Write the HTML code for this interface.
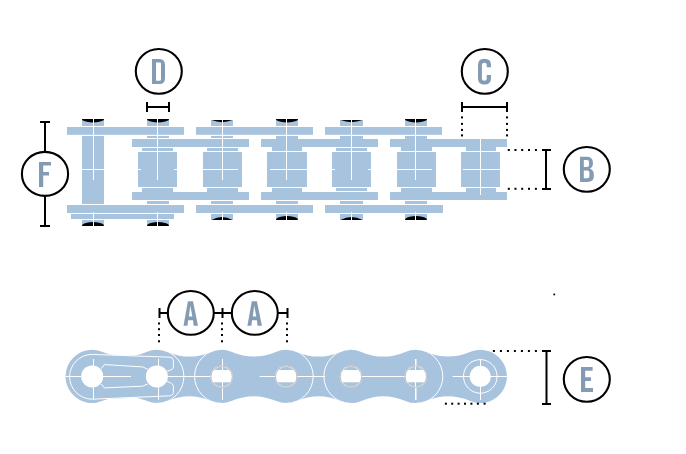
<!DOCTYPE html>
<html><head><meta charset="utf-8"><style>
html,body{margin:0;padding:0;background:#fff;width:686px;height:454px;overflow:hidden;font-family:"Liberation Sans",sans-serif;}
svg{display:block}
</style></head><body>
<svg width="686" height="454" viewBox="0 0 686 454">
<rect width="686" height="454" fill="#fff"/>
<rect x="67" y="127" width="117" height="7.8" fill="#a8c3de"/>
<rect x="67" y="205" width="117" height="8" fill="#a8c3de"/>
<rect x="196" y="127" width="117" height="7.8" fill="#a8c3de"/>
<rect x="196" y="205" width="117" height="8" fill="#a8c3de"/>
<rect x="325" y="127" width="117" height="7.8" fill="#a8c3de"/>
<rect x="325" y="205" width="118" height="8" fill="#a8c3de"/>
<rect x="71" y="214" width="103" height="5" fill="#a8c3de"/>
<rect x="132" y="139" width="117" height="8" fill="#a8c3de"/>
<rect x="132" y="192" width="117" height="8" fill="#a8c3de"/>
<rect x="261" y="139" width="117" height="8" fill="#a8c3de"/>
<rect x="261" y="192" width="117" height="8" fill="#a8c3de"/>
<rect x="390" y="139" width="117" height="8" fill="#a8c3de"/>
<rect x="390" y="192" width="117" height="8" fill="#a8c3de"/>
<rect x="82" y="119" width="22" height="7" fill="#a8c3de"/>
<rect x="82" y="136" width="22" height="68" fill="#a8c3de"/>
<rect x="82" y="220" width="22" height="6" fill="#a8c3de"/>
<rect x="147" y="119" width="22" height="7" fill="#a8c3de"/>
<rect x="147" y="136" width="22" height="2" fill="#a8c3de"/>
<rect x="142" y="148" width="31" height="3" fill="#a8c3de"/>
<rect x="138" y="152" width="39" height="35" fill="#a8c3de"/>
<rect x="142" y="188" width="31" height="4" fill="#a8c3de"/>
<rect x="147" y="201" width="22" height="3" fill="#a8c3de"/>
<rect x="147" y="220" width="22" height="6" fill="#a8c3de"/>
<rect x="211" y="120" width="22" height="6" fill="#a8c3de"/>
<rect x="211" y="136" width="22" height="2" fill="#a8c3de"/>
<rect x="207" y="148" width="31" height="3" fill="#a8c3de"/>
<rect x="203" y="152" width="39" height="35" fill="#a8c3de"/>
<rect x="207" y="188" width="31" height="4" fill="#a8c3de"/>
<rect x="211" y="201" width="22" height="3" fill="#a8c3de"/>
<rect x="211" y="214" width="22" height="6" fill="#a8c3de"/>
<rect x="276" y="119" width="22" height="7" fill="#a8c3de"/>
<rect x="276" y="136" width="22" height="3" fill="#a8c3de"/>
<rect x="272" y="147" width="30" height="4" fill="#a8c3de"/>
<rect x="267" y="152" width="40" height="35" fill="#a8c3de"/>
<rect x="272" y="188" width="30" height="4" fill="#a8c3de"/>
<rect x="276" y="201" width="22" height="3" fill="#a8c3de"/>
<rect x="276" y="214" width="22" height="6" fill="#a8c3de"/>
<rect x="340" y="120" width="23" height="6" fill="#a8c3de"/>
<rect x="340" y="136" width="23" height="3" fill="#a8c3de"/>
<rect x="336" y="148" width="31" height="3" fill="#a8c3de"/>
<rect x="332" y="152" width="39" height="35" fill="#a8c3de"/>
<rect x="336" y="188" width="31" height="3" fill="#a8c3de"/>
<rect x="340" y="201" width="23" height="3" fill="#a8c3de"/>
<rect x="340" y="214" width="23" height="6" fill="#a8c3de"/>
<rect x="405" y="119" width="22" height="7" fill="#a8c3de"/>
<rect x="405" y="136" width="22" height="3" fill="#a8c3de"/>
<rect x="401" y="147" width="31" height="4" fill="#a8c3de"/>
<rect x="397" y="152" width="39" height="35" fill="#a8c3de"/>
<rect x="401" y="188" width="31" height="4" fill="#a8c3de"/>
<rect x="405" y="201" width="22" height="3" fill="#a8c3de"/>
<rect x="405" y="214" width="22" height="6" fill="#a8c3de"/>
<rect x="466" y="147" width="30" height="4" fill="#a8c3de"/>
<rect x="461" y="152" width="39" height="35" fill="#a8c3de"/>
<rect x="466" y="188" width="30" height="4" fill="#a8c3de"/>
<path d="M82.6,119 H103.4 Q104,119 104,120.1 C99,123.3 87,123.3 82,120.1 Q82,119 82.6,119 Z" fill="#000"/>
<path d="M82.6,226 H103.4 Q104,226 104,224.9 C99,221.1 87,221.1 82,224.9 Q82,226 82.6,226 Z" fill="#000"/>
<path d="M147.6,119 H168.4 Q169,119 169,120.1 C164,123.3 152,123.3 147,120.1 Q147,119 147.6,119 Z" fill="#000"/>
<path d="M147.6,226 H168.4 Q169,226 169,224.9 C164,221.1 152,221.1 147,224.9 Q147,226 147.6,226 Z" fill="#000"/>
<path d="M211.5,120 H232.5 Q222.0,124.3 211.5,120 Z" fill="#000"/>
<path d="M211.5,220 H232.5 Q222.0,214 211.5,220 Z" fill="#000"/>
<path d="M276.6,119 H297.4 Q298,119 298,120.1 C293,123.3 281,123.3 276,120.1 Q276,119 276.6,119 Z" fill="#000"/>
<path d="M276.6,220 H297.4 Q298,220 298,218.9 C293,215.1 281,215.1 276,218.9 Q276,220 276.6,220 Z" fill="#000"/>
<path d="M340.5,120 H362.5 Q351.5,124.3 340.5,120 Z" fill="#000"/>
<path d="M340.5,220 H362.5 Q351.5,214 340.5,220 Z" fill="#000"/>
<path d="M405.6,119 H426.4 Q427,119 427,120.1 C422,123.3 410,123.3 405,120.1 Q405,119 405.6,119 Z" fill="#000"/>
<path d="M405.6,220 H426.4 Q427,220 427,218.9 C422,215.1 410,215.1 405,218.9 Q405,220 405.6,220 Z" fill="#000"/>
<rect x="93" y="119" width="1" height="61" fill="#fff"/>
<rect x="93" y="212" width="1" height="14" fill="#fff"/>
<rect x="82" y="169" width="22" height="1" fill="#fff"/>
<rect x="157" y="119" width="1" height="61" fill="#fff"/>
<rect x="157" y="212" width="1" height="14" fill="#fff"/>
<rect x="138" y="169" width="3" height="1" fill="#fff"/>
<rect x="174" y="169" width="3" height="1" fill="#fff"/>
<rect x="222" y="120" width="1" height="60" fill="#fff"/>
<rect x="222" y="212" width="1" height="8" fill="#fff"/>
<rect x="203" y="169" width="35" height="1" fill="#fff"/>
<rect x="286" y="119" width="1" height="61" fill="#fff"/>
<rect x="286" y="212" width="1" height="8" fill="#fff"/>
<rect x="270" y="169" width="37" height="1" fill="#fff"/>
<rect x="351" y="120" width="1" height="60" fill="#fff"/>
<rect x="351" y="212" width="1" height="8" fill="#fff"/>
<rect x="332" y="169" width="3" height="1" fill="#fff"/>
<rect x="368" y="169" width="3" height="1" fill="#fff"/>
<rect x="415" y="119" width="1" height="61" fill="#fff"/>
<rect x="415" y="212" width="1" height="8" fill="#fff"/>
<rect x="397" y="169" width="35" height="1" fill="#fff"/>
<rect x="480" y="139" width="1" height="56" fill="#fff"/>
<rect x="463" y="169" width="37" height="1" fill="#fff"/>
<path d="M65.60,376.40 A26.6,26.6 0 0 1 102.62,351.93 A55.98,55.98 0 0 0 146.48,351.93 A26.6,26.6 0 0 1 167.32,351.93 A55.98,55.98 0 0 0 211.18,351.93 A26.6,26.6 0 0 1 232.03,351.93 A55.74,55.74 0 0 0 275.77,351.93 A26.6,26.6 0 0 1 296.62,351.93 A55.98,55.98 0 0 0 340.48,351.93 A26.6,26.6 0 0 1 361.29,351.91 A56.47,56.47 0 0 0 405.41,351.91 A26.6,26.6 0 0 1 426.25,351.94 A55.49,55.49 0 0 0 469.85,351.94 A26.6,26.6 0 0 1 506.90,376.40 A26.6,26.6 0 0 1 469.85,400.86 A55.49,55.49 0 0 0 426.25,400.86 A26.6,26.6 0 0 1 405.41,400.89 A56.47,56.47 0 0 0 361.29,400.89 A26.6,26.6 0 0 1 340.48,400.87 A55.98,55.98 0 0 0 296.62,400.87 A26.6,26.6 0 0 1 275.77,400.87 A55.74,55.74 0 0 0 232.03,400.87 A26.6,26.6 0 0 1 211.18,400.87 A55.98,55.98 0 0 0 167.32,400.87 A26.6,26.6 0 0 1 146.48,400.87 A55.98,55.98 0 0 0 102.62,400.87 A26.6,26.6 0 0 1 65.60,376.40 Z" fill="#a8c3de"/>
<path d="M92.2,354.4 L170,357.2 Q173.4,357.2 173.4,361 V367.6 Q173.4,369.5 167.1,371.2 L166.5,381.3 Q173.4,383.5 173.4,386.3 V392.3 Q173.4,395.9 168.7,395.9 L92.2,399.2 A22.6,22.4 0 0 1 92.2,354.4 Z" fill="#a8c3de" stroke="#a8c3de" stroke-width="0.6"/>
<path d="M92.2,354.4 L170,357.2 Q173.4,357.2 173.4,361 V367.6 Q173.4,369.5 167.1,371.2 M166.5,381.3 Q173.4,383.5 173.4,386.3 V392.3 Q173.4,395.9 168.7,395.9 L92.2,399.2 A22.6,22.4 0 0 1 92.2,354.4" fill="none" stroke="#fff" stroke-width="1"/>
<path d="M101.2,368.7 L104.4,364.6 L142.6,366.9 L147.9,369.3 M101.2,384 L104.4,387.9 L142.6,386.2 L147.9,383.9" fill="none" stroke="#fff" stroke-width="1"/>
<clipPath id="sil"><path d="M65.60,376.40 A26.6,26.6 0 0 1 102.62,351.93 A55.98,55.98 0 0 0 146.48,351.93 A26.6,26.6 0 0 1 167.32,351.93 A55.98,55.98 0 0 0 211.18,351.93 A26.6,26.6 0 0 1 232.03,351.93 A55.74,55.74 0 0 0 275.77,351.93 A26.6,26.6 0 0 1 296.62,351.93 A55.98,55.98 0 0 0 340.48,351.93 A26.6,26.6 0 0 1 361.29,351.91 A56.47,56.47 0 0 0 405.41,351.91 A26.6,26.6 0 0 1 426.25,351.94 A55.49,55.49 0 0 0 469.85,351.94 A26.6,26.6 0 0 1 506.90,376.40 A26.6,26.6 0 0 1 469.85,400.86 A55.49,55.49 0 0 0 426.25,400.86 A26.6,26.6 0 0 1 405.41,400.89 A56.47,56.47 0 0 0 361.29,400.89 A26.6,26.6 0 0 1 340.48,400.87 A55.98,55.98 0 0 0 296.62,400.87 A26.6,26.6 0 0 1 275.77,400.87 A55.74,55.74 0 0 0 232.03,400.87 A26.6,26.6 0 0 1 211.18,400.87 A55.98,55.98 0 0 0 167.32,400.87 A26.6,26.6 0 0 1 146.48,400.87 A55.98,55.98 0 0 0 102.62,400.87 A26.6,26.6 0 0 1 65.60,376.40 Z"/></clipPath>
<path d="M221.60,349.40 A27.0,27.0 0 0 0 221.60,403.40 M286.20,349.40 A27.0,27.0 0 0 1 286.20,403.40 M350.90,349.40 A27.0,27.0 0 0 0 350.90,403.40 M415.80,349.40 A27.0,27.0 0 0 1 415.80,403.40 M156.90,349.40 A27.0,27.0 0 0 1 156.90,403.40 " fill="none" stroke="#fff" stroke-width="1" clip-path="url(#sil)"/>
<rect x="66" y="376" width="15" height="1" fill="#fff"/>
<rect x="103" y="376" width="28" height="1" fill="#fff"/>
<rect x="168" y="376" width="43" height="1" fill="#fff"/>
<rect x="259.6" y="376" width="15.399999999999977" height="1" fill="#fff"/>
<rect x="297" y="376" width="28" height="1" fill="#fff"/>
<rect x="361.6" y="376" width="43.39999999999998" height="1" fill="#fff"/>
<rect x="452.7" y="376" width="54.60000000000002" height="1" fill="#fff"/>
<rect x="93" y="359" width="1" height="41" fill="#fff"/>
<rect x="158" y="358.8" width="1" height="40.89999999999998" fill="#fff"/>
<rect x="222" y="359" width="1" height="41" fill="#fff"/>
<rect x="415.5" y="359" width="1" height="41" fill="#fff"/>
<rect x="480" y="359.3" width="1" height="40.69999999999999" fill="#fff"/>
<circle cx="92.2" cy="376.4" r="11" fill="#fff"/>
<circle cx="156.9" cy="376.4" r="11" fill="#fff"/>
<clipPath id="h2"><circle cx="221.60" cy="376.7" r="10.8"/></clipPath>
<circle cx="221.60" cy="376.4" r="11" fill="#a8c3de"/>
<rect x="209.60" y="370" width="24" height="12.3" fill="#fff" clip-path="url(#h2)"/>
<rect x="222" y="359" width="1" height="41" fill="#fff"/>
<circle cx="221.60" cy="376.7" r="10.6" fill="none" stroke="#fff" stroke-width="1.2"/>
<circle cx="221.60" cy="376.7" r="10.75" fill="none" stroke="#9e9e9e" stroke-width="0.7"/>
<clipPath id="h3"><circle cx="286.20" cy="376.7" r="10.8"/></clipPath>
<circle cx="286.20" cy="376.4" r="11" fill="#a8c3de"/>
<rect x="274.20" y="370" width="24" height="12.3" fill="#fff" clip-path="url(#h3)"/>
<circle cx="286.20" cy="376.7" r="10.6" fill="none" stroke="#fff" stroke-width="1.2"/>
<circle cx="286.20" cy="376.7" r="10.75" fill="none" stroke="#9e9e9e" stroke-width="0.7"/>
<clipPath id="h4"><circle cx="350.90" cy="376.7" r="10.8"/></clipPath>
<circle cx="350.90" cy="376.4" r="11" fill="#a8c3de"/>
<rect x="338.90" y="370" width="24" height="12.3" fill="#fff" clip-path="url(#h4)"/>
<circle cx="350.90" cy="376.7" r="10.6" fill="none" stroke="#fff" stroke-width="1.2"/>
<circle cx="350.90" cy="376.7" r="10.75" fill="none" stroke="#9e9e9e" stroke-width="0.7"/>
<clipPath id="h5"><circle cx="415.80" cy="376.7" r="10.8"/></clipPath>
<circle cx="415.80" cy="376.4" r="11" fill="#a8c3de"/>
<rect x="403.80" y="370" width="24" height="12.3" fill="#fff" clip-path="url(#h5)"/>
<rect x="415" y="359" width="1" height="41" fill="#fff"/>
<circle cx="415.80" cy="376.7" r="10.6" fill="none" stroke="#fff" stroke-width="1.2"/>
<circle cx="415.80" cy="376.7" r="10.75" fill="none" stroke="#9e9e9e" stroke-width="0.7"/>
<circle cx="480.30" cy="376.4" r="16.8" fill="none" stroke="#fff" stroke-width="1"/>
<circle cx="480.30" cy="376.4" r="10.6" fill="#fff"/>
<ellipse cx="158.8" cy="71.35" rx="23.0" ry="22.35" fill="none" stroke="#000" stroke-width="2.1"/>
<rect x="146" y="106" width="24" height="2" fill="#000"/>
<rect x="146" y="102" width="2" height="10" fill="#000"/>
<rect x="168" y="102" width="2" height="10" fill="#000"/>
<ellipse cx="484.8" cy="71.4" rx="23.0" ry="22.35" fill="none" stroke="#000" stroke-width="2.1"/>
<rect x="461" y="106" width="47" height="2" fill="#000"/>
<rect x="461" y="102" width="2" height="10" fill="#000"/>
<rect x="506" y="102" width="2" height="10" fill="#000"/>
<rect x="461" y="116.4" width="2" height="2.0" fill="#000"/>
<rect x="461" y="122.9" width="2" height="2.0" fill="#000"/>
<rect x="461" y="128.9" width="2" height="2.0" fill="#000"/>
<rect x="461" y="134.4" width="2" height="2.0" fill="#000"/>
<rect x="506" y="116.4" width="2" height="2.0" fill="#000"/>
<rect x="506" y="122.9" width="2" height="2.0" fill="#000"/>
<rect x="506" y="128.9" width="2" height="2.0" fill="#000"/>
<rect x="506" y="134.4" width="2" height="2.0" fill="#000"/>
<ellipse cx="45.0" cy="173.9" rx="23.1" ry="22.0" fill="none" stroke="#000" stroke-width="2.1"/>
<rect x="44" y="122" width="2" height="29" fill="#000"/>
<rect x="44" y="197" width="2" height="29" fill="#000"/>
<rect x="40" y="121" width="10" height="2" fill="#000"/>
<rect x="40" y="225" width="10" height="2" fill="#000"/>
<ellipse cx="586.8" cy="169.35" rx="23.0" ry="22.35" fill="none" stroke="#000" stroke-width="2.1"/>
<rect x="545" y="149" width="2" height="40" fill="#000"/>
<rect x="542" y="149" width="9" height="2" fill="#000"/>
<rect x="542" y="188" width="9" height="2" fill="#000"/>
<rect x="507.8" y="149" width="2.0" height="2" fill="#000"/>
<rect x="507.8" y="187.8" width="2.0" height="2.0" fill="#000"/>
<rect x="514.5" y="149" width="2.0" height="2" fill="#000"/>
<rect x="514.5" y="187.8" width="2.0" height="2.0" fill="#000"/>
<rect x="521.2" y="149" width="2.0" height="2" fill="#000"/>
<rect x="521.2" y="187.8" width="2.0" height="2.0" fill="#000"/>
<rect x="528" y="149" width="2" height="2" fill="#000"/>
<rect x="528" y="187.8" width="2" height="2.0" fill="#000"/>
<rect x="534.9" y="149" width="2.0" height="2" fill="#000"/>
<rect x="534.9" y="187.8" width="2.0" height="2.0" fill="#000"/>
<ellipse cx="586.8" cy="379.35" rx="23.0" ry="22.35" fill="none" stroke="#000" stroke-width="2.1"/>
<rect x="545.5" y="351" width="2.0" height="53" fill="#000"/>
<rect x="542" y="350" width="9" height="2" fill="#000"/>
<rect x="542" y="403" width="9" height="2" fill="#000"/>
<rect x="492.9" y="350" width="2.0" height="2" fill="#000"/>
<rect x="499.9" y="350" width="2.0" height="2" fill="#000"/>
<rect x="506.9" y="350" width="2.0" height="2" fill="#000"/>
<rect x="513.9" y="350" width="2.0" height="2" fill="#000"/>
<rect x="520.9" y="350" width="2.0" height="2" fill="#000"/>
<rect x="527.9" y="350" width="2.0" height="2" fill="#000"/>
<rect x="534.9" y="350" width="2.0" height="2" fill="#000"/>
<rect x="444.9" y="402.7" width="2.0" height="2.0" fill="#000"/>
<rect x="451.2" y="402.7" width="2.0" height="2.0" fill="#000"/>
<rect x="457.6" y="402.7" width="2.0" height="2.0" fill="#000"/>
<rect x="464" y="402.7" width="2" height="2.0" fill="#000"/>
<rect x="470.4" y="402.7" width="2.0" height="2.0" fill="#000"/>
<rect x="476.9" y="402.7" width="2.0" height="2.0" fill="#000"/>
<rect x="483.6" y="402.7" width="2.0" height="2.0" fill="#000"/>
<rect x="553.4" y="293.6" width="1.7" height="1.7" fill="#000"/>
<ellipse cx="190.8" cy="312.9" rx="23.0" ry="21.9" fill="none" stroke="#000" stroke-width="2.1"/>
<ellipse cx="254.8" cy="312.9" rx="23.0" ry="21.9" fill="none" stroke="#000" stroke-width="2.1"/>
<rect x="159" y="312" width="9.7" height="2" fill="#000"/>
<rect x="213.9" y="312" width="18.6" height="2" fill="#000"/>
<rect x="277.9" y="312" width="10.1" height="2" fill="#000"/>
<rect x="158.5" y="308" width="2.0" height="10" fill="#000"/>
<rect x="221.5" y="308" width="2.0" height="10" fill="#000"/>
<rect x="286.5" y="308" width="2.0" height="10" fill="#000"/>
<rect x="158" y="322.5" width="2" height="2.0" fill="#000"/>
<rect x="158" y="328.2" width="2" height="2.0" fill="#000"/>
<rect x="158" y="334" width="2" height="2" fill="#000"/>
<rect x="158" y="340.3" width="2" height="2.0" fill="#000"/>
<rect x="221" y="322.5" width="2" height="2.0" fill="#000"/>
<rect x="221" y="328.2" width="2" height="2.0" fill="#000"/>
<rect x="221" y="334" width="2" height="2" fill="#000"/>
<rect x="221" y="340.3" width="2" height="2.0" fill="#000"/>
<rect x="286" y="322.5" width="2" height="2.0" fill="#000"/>
<rect x="286" y="328.2" width="2" height="2.0" fill="#000"/>
<rect x="286" y="334" width="2" height="2" fill="#000"/>
<rect x="286" y="340.3" width="2" height="2.0" fill="#000"/>

<path fill="#849cb3" fill-rule="evenodd" d="M187.9,301.2 H193 L198,325.7 H193.7 L193,320.3 H188.1 L187.5,325.7 H183.5 Z M190.3,305.8 L192.4,316.6 H188.9 Z"/>
<path fill="#849cb3" fill-rule="evenodd" d="M251.8,301.2 H256.9 L261.9,325.7 H257.6 L256.9,320.3 H252 L251.4,325.7 H247.4 Z M254.2,305.8 L256.3,316.6 H252.8 Z"/>
<path fill="#849cb3" fill-rule="evenodd" d="M580,156.8 H586.5 Q592.9,156.8 592.9,162.5 V164 Q592.9,167.3 589.8,168.6 Q593.8,170 593.8,174.5 V176.5 Q593.8,181.9 587.5,181.9 H580 Z M583.8,160 H587 Q589,160 589,162 V165 Q589,167 587,167 H583.8 Z M583.8,170.6 H587.4 Q589.4,170.6 589.4,172.6 V176.3 Q589.4,178.3 587.4,178.3 H583.8 Z"/>
<path fill="#849cb3" d="M484.4,58.8 Q491,58.8 491,65 V67.3 H486.7 V64.5 Q486.7,62.7 484.4,62.7 Q481.9,62.7 481.9,64.5 V79 Q481.9,80.7 484.4,80.7 Q486.7,80.7 486.7,79 V75 H491 V78.5 Q491,84.6 484.4,84.6 Q478,84.6 478,78.5 V65 Q478,58.8 484.4,58.8 Z"/>
<path fill="#849cb3" fill-rule="evenodd" d="M152,59 H159.5 Q165,59 165,65 V78 Q165,84 159.5,84 H152 Z M156,62.4 H159.8 Q161,62.4 161,63.6 V79.5 Q161,80.7 159.8,80.7 H156 Z"/>
<path fill="#849cb3" d="M581,367 H592.6 V370.7 H585.2 V377.3 H591 V380.9 H585.2 V388.1 H593 V392 H581 Z"/>
<path fill="#849cb3" d="M39,162 H51 V165.5 H43.2 V172 H49 V175.6 H43.2 V187 H39 Z"/>

</svg>
</body></html>
